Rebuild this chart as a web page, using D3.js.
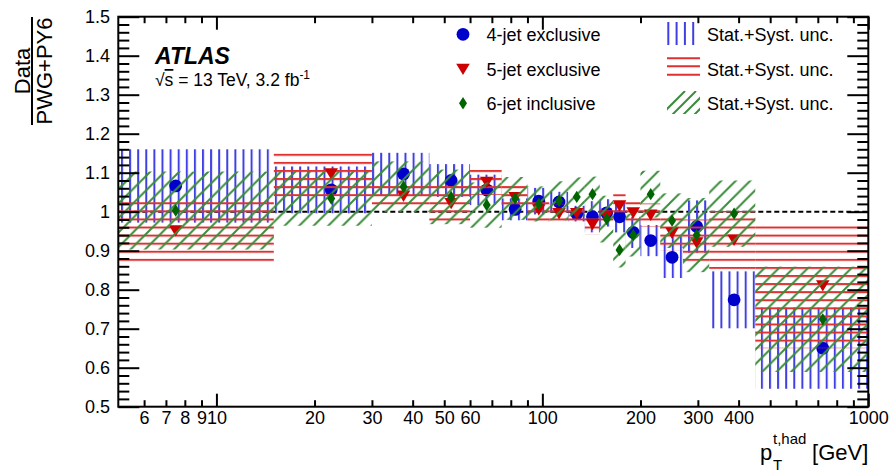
<!DOCTYPE html>
<html>
<head>
<meta charset="utf-8">
<script src="https://cdn.jsdelivr.net/npm/d3@7"></script>
<style>
  html, body { margin: 0; padding: 0; background: #fff; }
  svg { display: block; font-family: "Liberation Sans", Arial, Helvetica, sans-serif; }
</style>
</head>
<body>
<svg id="chart" width="891" height="475"></svg>
<script>
// Bin edges in p_T^{t,had} [GeV] (shared by all jet multiplicities)
const binEdges = [0, 15, 30, 45, 60, 75, 90, 105, 120, 135, 150, 165, 180, 200, 230, 270, 325, 450, 1000];

// Data / (Powheg+Pythia6) ratios and total (stat.+syst.) uncertainty per bin
const jet4Ratio = [1.066, 1.056, 1.097, 1.080, 1.056, 1.006, 1.027, 1.025, 0.995, 0.987, 0.997, 0.987, 0.947, 0.926, 0.883, 0.962, 0.774, 0.650];
const jet4Unc   = [0.094, 0.060, 0.054, 0.042, 0.039, 0.028, 0.034, 0.026, 0.020, 0.040, 0.035, 0.040, 0.040, 0.040, 0.053, 0.067, 0.073, 0.104];

const jet5Ratio = [0.951, 1.097, 1.040, 1.021, 1.075, 1.036, 1.005, 0.995, 0.995, 0.967, 0.988, 1.015, 0.997, 0.991, 0.945, 0.920, 0.927, 0.810];
const jet5Unc   = [0.080, 0.058, 0.028, 0.045, 0.032, 0.030, 0.030, 0.025, 0.020, 0.025, 0.025, 0.030, 0.030, 0.030, 0.045, 0.060, 0.075, 0.160];

const jet6Ratio = [1.003, 1.034, 1.064, 1.038, 1.017, 1.034, 1.020, 1.028, 1.038, 1.045, 0.981, 0.902, 0.940, 1.045, 0.977, 0.940, 0.995, 0.724];
const jet6Unc   = [0.100, 0.070, 0.065, 0.070, 0.058, 0.055, 0.045, 0.050, 0.050, 0.045, 0.060, 0.045, 0.055, 0.060, 0.070, 0.095, 0.085, 0.135];

const seriesNames = ["4-jet exclusive", "5-jet exclusive", "6-jet inclusive"];
const uncLabel = "Stat.+Syst. unc.";

// Axis ticks
const xMajorTicks = [10, 100, 1000];
const xMinorTicks = [6, 7, 8, 9, 20, 30, 40, 50, 60, 70, 80, 90, 200, 300, 400, 500, 600, 700, 800, 900];
const xTickLabels = {6: "6", 7: "7", 8: "8", 9: "9", 10: "10", 20: "20", 30: "30", 40: "40", 50: "50", 60: "60", 100: "100", 200: "200", 300: "300", 400: "400", 1000: "1000"};
const yMajorTicks = [0.5, 0.6, 0.7, 0.8, 0.9, 1.0, 1.1, 1.2, 1.3, 1.4, 1.5];
const yTickLabels = ["0.5", "0.6", "0.7", "0.8", "0.9", "1", "1.1", "1.2", "1.3", "1.4", "1.5"];

// ---------------------------------------------------------------
const svg = d3.select("#chart");
const L = 118.3, R = 868.3, T = 16.7, B = 406.7;
const x = d3.scaleLog().domain([5, 1000]).range([L, R]);
const y = d3.scaleLinear().domain([0.5, 1.5]).range([B, T]);

const FONT = '"Liberation Sans", Arial, Helvetica, sans-serif';
const colors = {
  blueLine: "#3f3fe2", redLine: "#e03030", greenLine: "#3a8c3a",
  blueMark: "#0000cc", redMark: "#cc0000", greenMark: "#006400"
};

const defs = svg.append("defs");
defs.append("clipPath").attr("id", "plotClip")
  .append("rect").attr("x", L).attr("y", T).attr("width", R - L).attr("height", B - T);

// vertical hatch
const pB = defs.append("pattern").attr("id", "hatchBlue")
  .attr("patternUnits", "userSpaceOnUse").attr("x", 121).attr("y", 0)
  .attr("width", 8.1).attr("height", 8);
pB.append("rect").attr("x", 0).attr("y", 0).attr("width", 2).attr("height", 8).attr("fill", colors.blueLine);

// horizontal hatch
const pR = defs.append("pattern").attr("id", "hatchRed")
  .attr("patternUnits", "userSpaceOnUse").attr("x", 0).attr("y", 202.3)
  .attr("width", 8).attr("height", 8.08);
pR.append("rect").attr("x", 0).attr("y", 0).attr("width", 8).attr("height", 2).attr("fill", colors.redLine);

// diagonal hatch
const P = 14.5;
const pG = defs.append("pattern").attr("id", "hatchGreen")
  .attr("patternUnits", "userSpaceOnUse").attr("x", 3).attr("y", 0)
  .attr("width", P).attr("height", P);
pG.append("path")
  .attr("d", `M0,${P} L${P},0 M-3,3 L3,-3 M${P - 3},${P + 3} L${P + 3},${P - 3}`)
  .attr("stroke", colors.greenLine).attr("stroke-width", 2).attr("fill", "none");

// ---------------------------------------------------------------
// reference line at ratio = 1
svg.append("line")
  .attr("x1", x(5)).attr("x2", x(1000)).attr("y1", y(1)).attr("y2", y(1))
  .attr("stroke", "#000").attr("stroke-width", 2).attr("stroke-dasharray", "5,3");

const bins = d3.range(binEdges.length - 1).map(i => ({lo: binEdges[i], hi: binEdges[i + 1], c: (binEdges[i] + binEdges[i + 1]) / 2}));

const markers = {
  circle: d3.symbol().type(d3.symbolCircle).size(Math.PI * 6.4 * 6.4),
  triangle: "M-6.8,-5.6 L6.8,-5.6 L0,5.8 Z",
  diamond: "M0,-6.2 L4,0 L0,6.2 L-4,0 Z"
};

const series = [
  {vals: jet4Ratio, unc: jet4Unc, fill: "url(#hatchBlue)", mark: markers.circle(), color: colors.blueMark},
  {vals: jet5Ratio, unc: jet5Unc, fill: "url(#hatchRed)", mark: markers.triangle, color: colors.redMark},
  {vals: jet6Ratio, unc: jet6Unc, fill: "url(#hatchGreen)", mark: markers.diamond, color: colors.greenMark}
];

const plot = svg.append("g").attr("clip-path", "url(#plotClip)");
series.forEach(s => {
  const rows = bins.map((b, i) => ({...b, v: s.vals[i], e: s.unc[i]}));
  plot.append("g").selectAll("rect").data(rows).join("rect")
    .attr("x", d => x(Math.max(d.lo, 5)))
    .attr("width", d => x(d.hi) - x(Math.max(d.lo, 5)))
    .attr("y", d => y(d.v + d.e))
    .attr("height", d => y(d.v - d.e) - y(d.v + d.e))
    .attr("fill", s.fill);
  plot.append("g").selectAll("path").data(rows).join("path")
    .attr("transform", d => `translate(${x(d.c)},${y(d.v)})`)
    .attr("d", s.mark)
    .attr("fill", s.color);
});

// ---------------------------------------------------------------
// axes (ticks pointing inward on all four sides)
function addAxis(axis, transform, values, size, fmt, pad) {
  const g = svg.append("g").attr("transform", transform)
    .call(axis.tickValues(values).tickSizeInner(size).tickSizeOuter(0)
      .tickPadding(pad || 0).tickFormat(fmt || (() => "")));
  g.select(".domain").remove();
  g.selectAll(".tick line").attr("stroke", "#000").attr("stroke-width", 2);
  g.selectAll(".tick text").attr("fill", "#000").style("font-family", FONT).style("font-size", "18px");
  return g;
}
const yMinorTicks = d3.range(0, 51).map(i => 0.5 + i * 0.02).filter(v => !yMajorTicks.some(m => Math.abs(m - v) < 1e-6));

addAxis(d3.axisBottom(x), `translate(0,${B})`, xMinorTicks, -6.5, v => xTickLabels[v] || "", 4.5);
addAxis(d3.axisBottom(x), `translate(0,${B})`, xMajorTicks, -13, v => xTickLabels[v] || "", 4.5);
addAxis(d3.axisTop(x), `translate(0,${T})`, xMinorTicks, -6.5);
addAxis(d3.axisTop(x), `translate(0,${T})`, xMajorTicks, -13);
addAxis(d3.axisLeft(y), `translate(${L},0)`, yMinorTicks, -11);
addAxis(d3.axisLeft(y), `translate(${L},0)`, yMajorTicks, -21, v => yTickLabels[yMajorTicks.indexOf(v)], 8.3);
addAxis(d3.axisRight(y), `translate(${R},0)`, yMinorTicks, -11);
addAxis(d3.axisRight(y), `translate(${R},0)`, yMajorTicks, -21);

svg.append("rect").attr("x", L).attr("y", T).attr("width", R - L).attr("height", B - T)
  .attr("fill", "none").attr("stroke", "#000").attr("stroke-width", 2);

// ---------------------------------------------------------------
// axis titles
const yt = svg.append("g").attr("transform", "translate(0,71) rotate(-90)").style("font-family", FONT).style("font-size", "22px");
yt.append("text").attr("x", 0).attr("y", 30).attr("text-anchor", "middle").text("Data");
yt.append("text").attr("x", 0).attr("y", 52).attr("text-anchor", "middle").text("PWG+PY6");
svg.append("line").attr("x1", 32).attr("x2", 32).attr("y1", 17).attr("y2", 125).attr("stroke", "#000").attr("stroke-width", 2);

const xt = svg.append("g").style("font-family", FONT);
xt.append("text").attr("x", 760).attr("y", 460).style("font-size", "22px").text("p");
xt.append("text").attr("x", 773).attr("y", 444).style("font-size", "15px").text("t,had");
xt.append("text").attr("x", 773).attr("y", 470).style("font-size", "15px").text("T");
xt.append("text").attr("x", R).attr("y", 460).attr("text-anchor", "end").style("font-size", "22px").text("[GeV]");

// ATLAS label
svg.append("text").attr("x", 155).attr("y", 64).style("font-family", FONT)
  .style("font-size", "23px").style("font-weight", "bold").style("font-style", "italic").text("ATLAS");
const lumi = svg.append("text").attr("x", 155).attr("y", 86).style("font-family", FONT).style("font-size", "17.5px");
lumi.append("tspan").text("\u221A");
lumi.append("tspan").style("text-decoration", "overline").text("s");
lumi.append("tspan").text(" = 13 TeV, 3.2 fb");
lumi.append("tspan").attr("dy", -7).style("font-size", "12px").text("-1");

// ---------------------------------------------------------------
// legend
const legRows = [34.3, 69.3, 103.3];
const leg = svg.append("g").style("font-family", FONT).style("font-size", "18px");
series.forEach((s, i) => {
  leg.append("path").attr("transform", `translate(463,${legRows[i]})`).attr("d", s.mark).attr("fill", s.color);
  leg.append("text").attr("x", 486.5).attr("y", legRows[i] + 6.5).text(seriesNames[i]);
  leg.append("text").attr("x", 707).attr("y", legRows[i] + 6.5).text(uncLabel);
});
// legend hatch swatches
const swB = leg.append("g");
[668.3, 676.6, 684.9, 693.2].forEach(xx =>
  swB.append("line").attr("x1", xx).attr("x2", xx).attr("y1", 22).attr("y2", 45).attr("stroke", colors.blueLine).attr("stroke-width", 2));
[58.3, 66.2, 74.8].forEach(yy =>
  leg.append("line").attr("x1", 667).attr("x2", 700).attr("y1", yy).attr("y2", yy).attr("stroke", colors.redLine).attr("stroke-width", 2));
defs.append("clipPath").attr("id", "legGreenClip").append("rect").attr("x", 667).attr("y", 91).attr("width", 33).attr("height", 23);
const swG = leg.append("g").attr("clip-path", "url(#legGreenClip)");
[0, 1, 2, 3, 4].forEach(k => {
  const x0 = 660 + k * 11;
  swG.append("line").attr("x1", x0).attr("y1", 116).attr("x2", x0 + 25).attr("y2", 91)
    .attr("stroke", colors.greenLine).attr("stroke-width", 2);
});
</script>
</body>
</html>
